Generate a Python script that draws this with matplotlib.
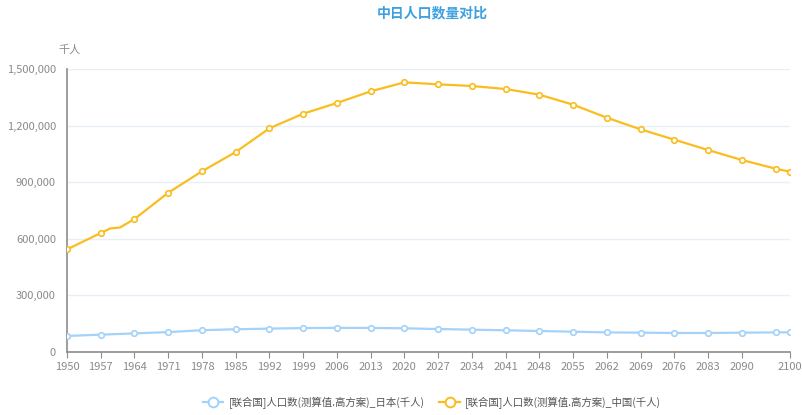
import matplotlib
matplotlib.use("Agg")
import matplotlib.pyplot as plt
from matplotlib.ticker import FuncFormatter

plt.rcParams['font.family'] = ['Noto Sans CJK SC', 'DejaVu Sans']

# marker years (every 7 years, plus the end year)
years = [1950, 1957, 1964, 1971, 1978, 1985, 1992, 1999, 2006, 2013, 2020,
         2027, 2034, 2041, 2048, 2055, 2062, 2069, 2076, 2083, 2090, 2097, 2100]

japan = [85000, 92000, 98500, 105500, 115500, 120500, 124000, 126800, 127900,
         127600, 125500, 121800, 118300, 115000, 111300, 107600, 104000,
         102300, 100800, 100700, 102200, 104000, 104200]

china = [544000, 630700, 705000, 844000, 957800, 1060000, 1185700, 1263000,
         1319800, 1381600, 1429300, 1418700, 1409900, 1393900, 1364000,
         1310900, 1242000, 1180000, 1125400, 1070700, 1017700, 971700, 955800]

# extra readings of the China line between markers (famine plateau)
china_extra_years = [1959, 1961]
china_extra = [655000, 660000]

xticks = [1950, 1957, 1964, 1971, 1978, 1985, 1992, 1999, 2006, 2013, 2020,
          2027, 2034, 2041, 2048, 2055, 2062, 2069, 2076, 2083, 2090, 2100]
yticks = [0, 300000, 600000, 900000, 1200000, 1500000]

japan_name = '[联合国]人口数(测算值.高方案)_日本(千人)'
china_name = '[联合国]人口数(测算值.高方案)_中国(千人)'

c_japan = '#A4D2F8'
c_china = '#FABD1F'
grey = '#8A8A8A'

fig = plt.figure(figsize=(8.03, 4.15), dpi=100)
ax = fig.add_axes([67 / 803, 1 - 352 / 415, (790 - 67) / 803, (352 - 69) / 415])

# China line including the extra shape points
cy = sorted(zip(years + china_extra_years, china + china_extra))
ax.plot([p[0] for p in cy], [p[1] for p in cy], color=c_china, lw=1.6, zorder=3)
ax.plot(years, china, ls='none', marker='o', ms=4, mfc='white', mec=c_china,
        mew=1.2, zorder=4)

ax.plot(years, japan, color=c_japan, lw=1.6, zorder=3)
ax.plot(years, japan, ls='none', marker='o', ms=4, mfc='white', mec=c_japan,
        mew=1.2, zorder=4)

# legend handles
ax.plot([], [], color=c_japan, lw=1.6, marker='o', ms=7, mfc='white', mec=c_japan,
        mew=1.4, label=japan_name)
ax.plot([], [], color=c_china, lw=1.6, marker='o', ms=7, mfc='white', mec=c_china,
        mew=1.4, label=china_name)

ax.set_xlim(1950, 2100)
ax.set_ylim(0, 1500000)
ax.set_xticks(xticks)
ax.set_yticks(yticks)
ax.yaxis.set_major_formatter(FuncFormatter(lambda v, p: '{:,.0f}'.format(v)))

ax.grid(axis='y', color='#E9EFF7', lw=1)
ax.set_axisbelow(True)
for s in ['top', 'right']:
    ax.spines[s].set_visible(False)
for s in ['left', 'bottom']:
    ax.spines[s].set_color('#8C8C8C')
    ax.spines[s].set_linewidth(1.2)
ax.tick_params(axis='y', length=0, pad=8, labelsize=8, labelcolor=grey)
ax.tick_params(axis='x', length=4, color='#8C8C8C', pad=3, labelsize=8,
               labelcolor=grey)

fig.text(70 / 803, 1 - 50 / 415, '千人', fontsize=8, color=grey,
         ha='center', va='center')
fig.text(432 / 803, 1 - 13 / 415, '中日人口数量对比', fontsize=10, color='#3DA0E0',
         ha='center', va='center', fontweight='bold')

fig.legend(loc='center', bbox_to_anchor=(432 / 803, 1 - 403 / 415), ncol=2,
           frameon=False, fontsize=7.5, handlelength=2.0, columnspacing=1.4,
           handletextpad=0.5, labelcolor='#555555')

fig.savefig('out.png', dpi=100)
